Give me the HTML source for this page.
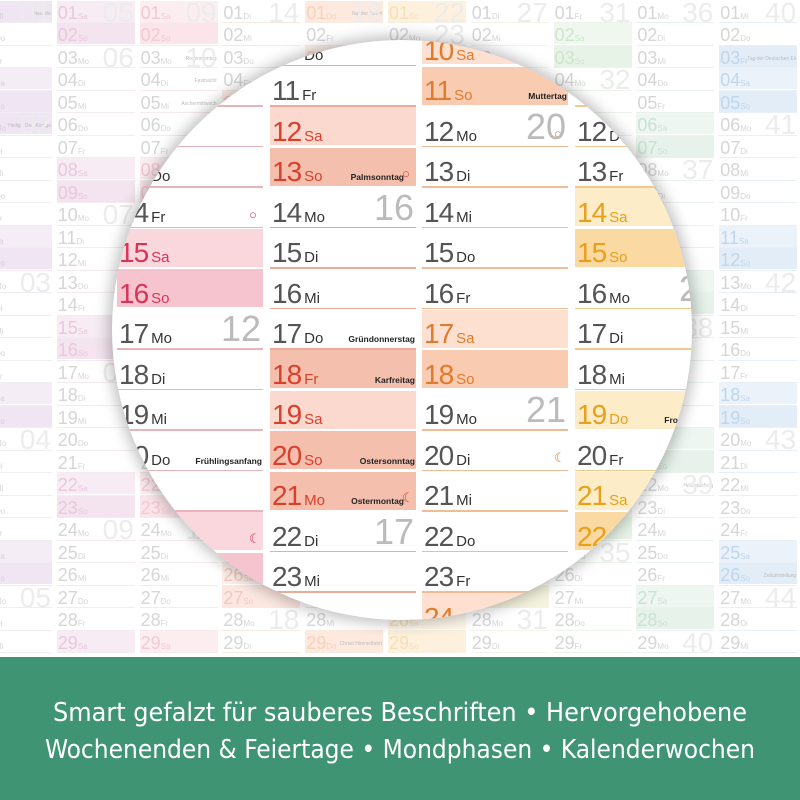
<!DOCTYPE html>
<html><head><meta charset="utf-8">
<style>
html,body{margin:0;padding:0;}
body{width:800px;height:800px;overflow:hidden;position:relative;background:#fff;font-family:"Liberation Sans",sans-serif;}
#bg{position:absolute;left:0;top:0;width:800px;height:657px;overflow:hidden;}
.r{position:absolute;}
.band{position:absolute;left:0;top:657px;width:800px;height:143px;background:#3f9474;}
#mag{position:absolute;left:112px;top:40px;width:580px;height:580px;border-radius:50%;overflow:hidden;background:#fff;box-shadow:0 0 14px 4px rgba(0,0,0,0.25);}
#magin{position:absolute;left:-112px;top:-40px;width:800px;height:700px;}
</style></head><body>
<div id="bg"></div>
<div id="mag"><div id="magin"></div></div>
<div class="band">
<svg width="800" height="143" style="position:absolute;left:0;top:0">
<text x="400" y="64" text-anchor="middle" font-family="DejaVu Sans Condensed, DejaVu Sans, sans-serif" font-size="26" fill="#fff" textLength="694" lengthAdjust="spacingAndGlyphs">Smart gefalzt für sauberes Beschriften • Hervorgehobene</text>
<text x="400" y="101" text-anchor="middle" font-family="DejaVu Sans Condensed, DejaVu Sans, sans-serif" font-size="26" fill="#fff" textLength="710" lengthAdjust="spacingAndGlyphs">Wochenenden &amp; Feiertage • Mondphasen • Kalenderwochen</text>
</svg>
</div>
<script>
var WD=["So","Mo","Di","Mi","Do","Fr","Sa"];
function kw(y,m,d){var dt=new Date(Date.UTC(y,m,d));var n=dt.getUTCDay()||7;dt.setUTCDate(dt.getUTCDate()+4-n);var ys=new Date(Date.UTC(dt.getUTCFullYear(),0,1));return Math.ceil(((dt-ys)/86400000+1)/7);}
var hol={"0-1":"Neujahr","0-6":"Heilige Drei Könige","2-3":"Rosenmontag","2-4":"Fastnacht","2-5":"Aschermittwoch","3-18":"Karfreitag","3-20":"Ostersonntag","3-21":"Ostermontag","4-1":"Tag der Arbeit","4-29":"Christi Himmelfahrt","5-9":"Pfingstmontag","5-19":"Fronleichnam","9-3":"Tag der Deutschen Einheit","8-22":"Herbstanfang","9-26":"Zeitumstellung"};
var holBg={"0-1":1,"0-6":1,"3-18":1,"3-20":1,"3-21":1,"4-1":1,"4-29":1,"5-9":1,"5-19":1,"9-3":1};
var tint=["#f4edf6","#f7ecf4","#fcedf0","#fdefeb","#fdf0e8","#fef6e9","#f9f8ea","#eff7ee","#edf6f1","#ebf2f9"];
var tint2=["#efe5f3","#f4e4ef","#fbe5ea","#fce7e1","#fde9de","#fdf1dd","#f5f4df","#e7f3e6","#e6f2ea","#e3edf7"];
var tcol=["#dccbe4","#e8c8dc","#f3c9d2","#f3c8bd","#f5d3ba","#f5e0b7","#e6e4c0","#cde5cb","#c9e2d4","#bfd6ec"];
var lcol=["#f1ebf3","#f4ebf0","#f8e9ec","#f8e9e4","#f8ebe3","#f8f0e3","#f3f3e8","#ebf3ea","#e9f2ed","#e8eff6"];
var bg=document.getElementById('bg'),h='';
for(var m=0;m<10;m++){
 var L=-26+82.8*m;
 for(var d=1;d<=29;d++){
  var T=0.5+(d-1)*22.5;var wd=new Date(Date.UTC(2025,m,d)).getUTCDay();var key=m+"-"+d;
  var we=(wd==0||wd==6||holBg[key]);
  if(we)h+='<div class="r" style="left:'+L+'px;top:'+T+'px;width:78px;height:21px;background:'+(wd==0||holBg[key]?tint2[m]:tint[m])+'"></div>';
  h+='<div class="r" style="left:'+L+'px;top:'+(T+21.5)+'px;width:78px;height:1px;background:'+lcol[m]+'"></div>';
  h+='<div class="r" style="left:'+(L+1)+'px;top:'+(T+3)+'px;font-size:18px;line-height:19px;color:'+(we?tcol[m]:'#d6d6d6')+';white-space:nowrap">'+(d<10?'0':'')+d+'<span style="font-size:8px">'+WD[wd]+'</span></div>';
  if(hol[key])h+='<div class="r" style="left:'+(L+28)+'px;top:'+(T+10)+'px;width:49px;text-align:right;font-size:5px;color:#bbb;white-space:nowrap;overflow:hidden">'+hol[key]+'</div>';
  if(wd==1||d==1)h+='<div class="r" style="left:'+(L+40)+'px;top:'+(T-1)+'px;width:37px;text-align:right;font-size:28px;line-height:26px;color:#ececec">'+(kw(2025,m,d)<10?'0':'')+kw(2025,m,d)+'</div>';
 }
}
bg.innerHTML=h;
var cols=[{m:2,L:117},{m:3,L:270},{m:4,L:422},{m:5,L:575}];
var cS=["#f9d7dd","#fbd9cf","#fde0cf","#fdecc8"];
var cU=["#f6c4ce","#f5bfae","#f9ccb2","#fbd9a2"];
var cT=["#d8345a","#d9402c","#e07a2c","#e8a01a"];
var cL=["#e8b4bc","#ebab9b","#f0bc98","#f2c98c"];
var ev={"2-20":"Frühlingsanfang","3-13":"Palmsonntag","3-17":"Gründonnerstag","3-18":"Karfreitag","3-20":"Ostersonntag","3-21":"Ostermontag","4-11":"Muttertag","5-19":"Fronleichnam"};
var moon={"2-14":"○","2-22":"☾","3-13":"○","3-21":"☾","4-12":"○","4-20":"☾"};
var kwShow={"2-17":1,"3-14":1,"3-22":1,"4-12":1,"4-19":1,"2-10":1,"5-16":1};
var g='';
for(var i=0;i<4;i++){
 var c=cols[i],m=c.m,L=c.L;
 for(var d=9;d<=25;d++){
  var T=66+(d-11)*40.5;var wd=new Date(Date.UTC(2025,m,d)).getUTCDay();var key=m+"-"+d;
  var dark=(wd==0||holBg[key]&&m!=5);
  var light=(wd==6||key=="5-19");
  var we=dark||light;
  if(dark)g+='<div class="r" style="left:'+L+'px;top:'+(T+0.5)+'px;width:146px;height:38px;background:'+cU[i]+'"></div>';
  else if(light)g+='<div class="r" style="left:'+L+'px;top:'+(T+0.5)+'px;width:146px;height:38px;background:'+cS[i]+'"></div>';
  else g+='<div class="r" style="left:'+L+'px;top:'+(T+39)+'px;width:146px;height:1.5px;background:'+cL[i]+'"></div>';
  g+='<div class="r" style="left:'+(L+2)+'px;top:'+(T+12)+'px;font-size:28px;line-height:26px;color:'+(we?cT[i]:'#555')+';white-space:nowrap;letter-spacing:-1px">'+(d<10?'0':'')+d+'<span style="font-size:15px;letter-spacing:0;margin-left:3px;color:'+(we?cT[i]:'#333')+'">'+WD[wd]+'</span></div>';
  if(ev[key])g+='<div class="r" style="left:'+(L+50)+'px;top:'+(T+25)+'px;width:'+(moon[key]?84:95)+'px;text-align:right;font-size:8.5px;font-weight:bold;color:#222;white-space:nowrap">'+ev[key]+'</div>';
  if(moon[key])g+='<div class="r" style="left:'+(L+132)+'px;top:'+(T+19)+'px;font-size:13px;color:'+cT[i]+'">'+moon[key]+'</div>';
  if(kwShow[key])g+='<div class="r" style="left:'+(L+90)+'px;top:'+(T+4)+'px;width:54px;text-align:right;font-size:36px;line-height:32px;color:#bbb">'+kw(2025,m,d)+'</div>';
 }
}
document.getElementById('magin').innerHTML=g;
</script>
</body></html>
